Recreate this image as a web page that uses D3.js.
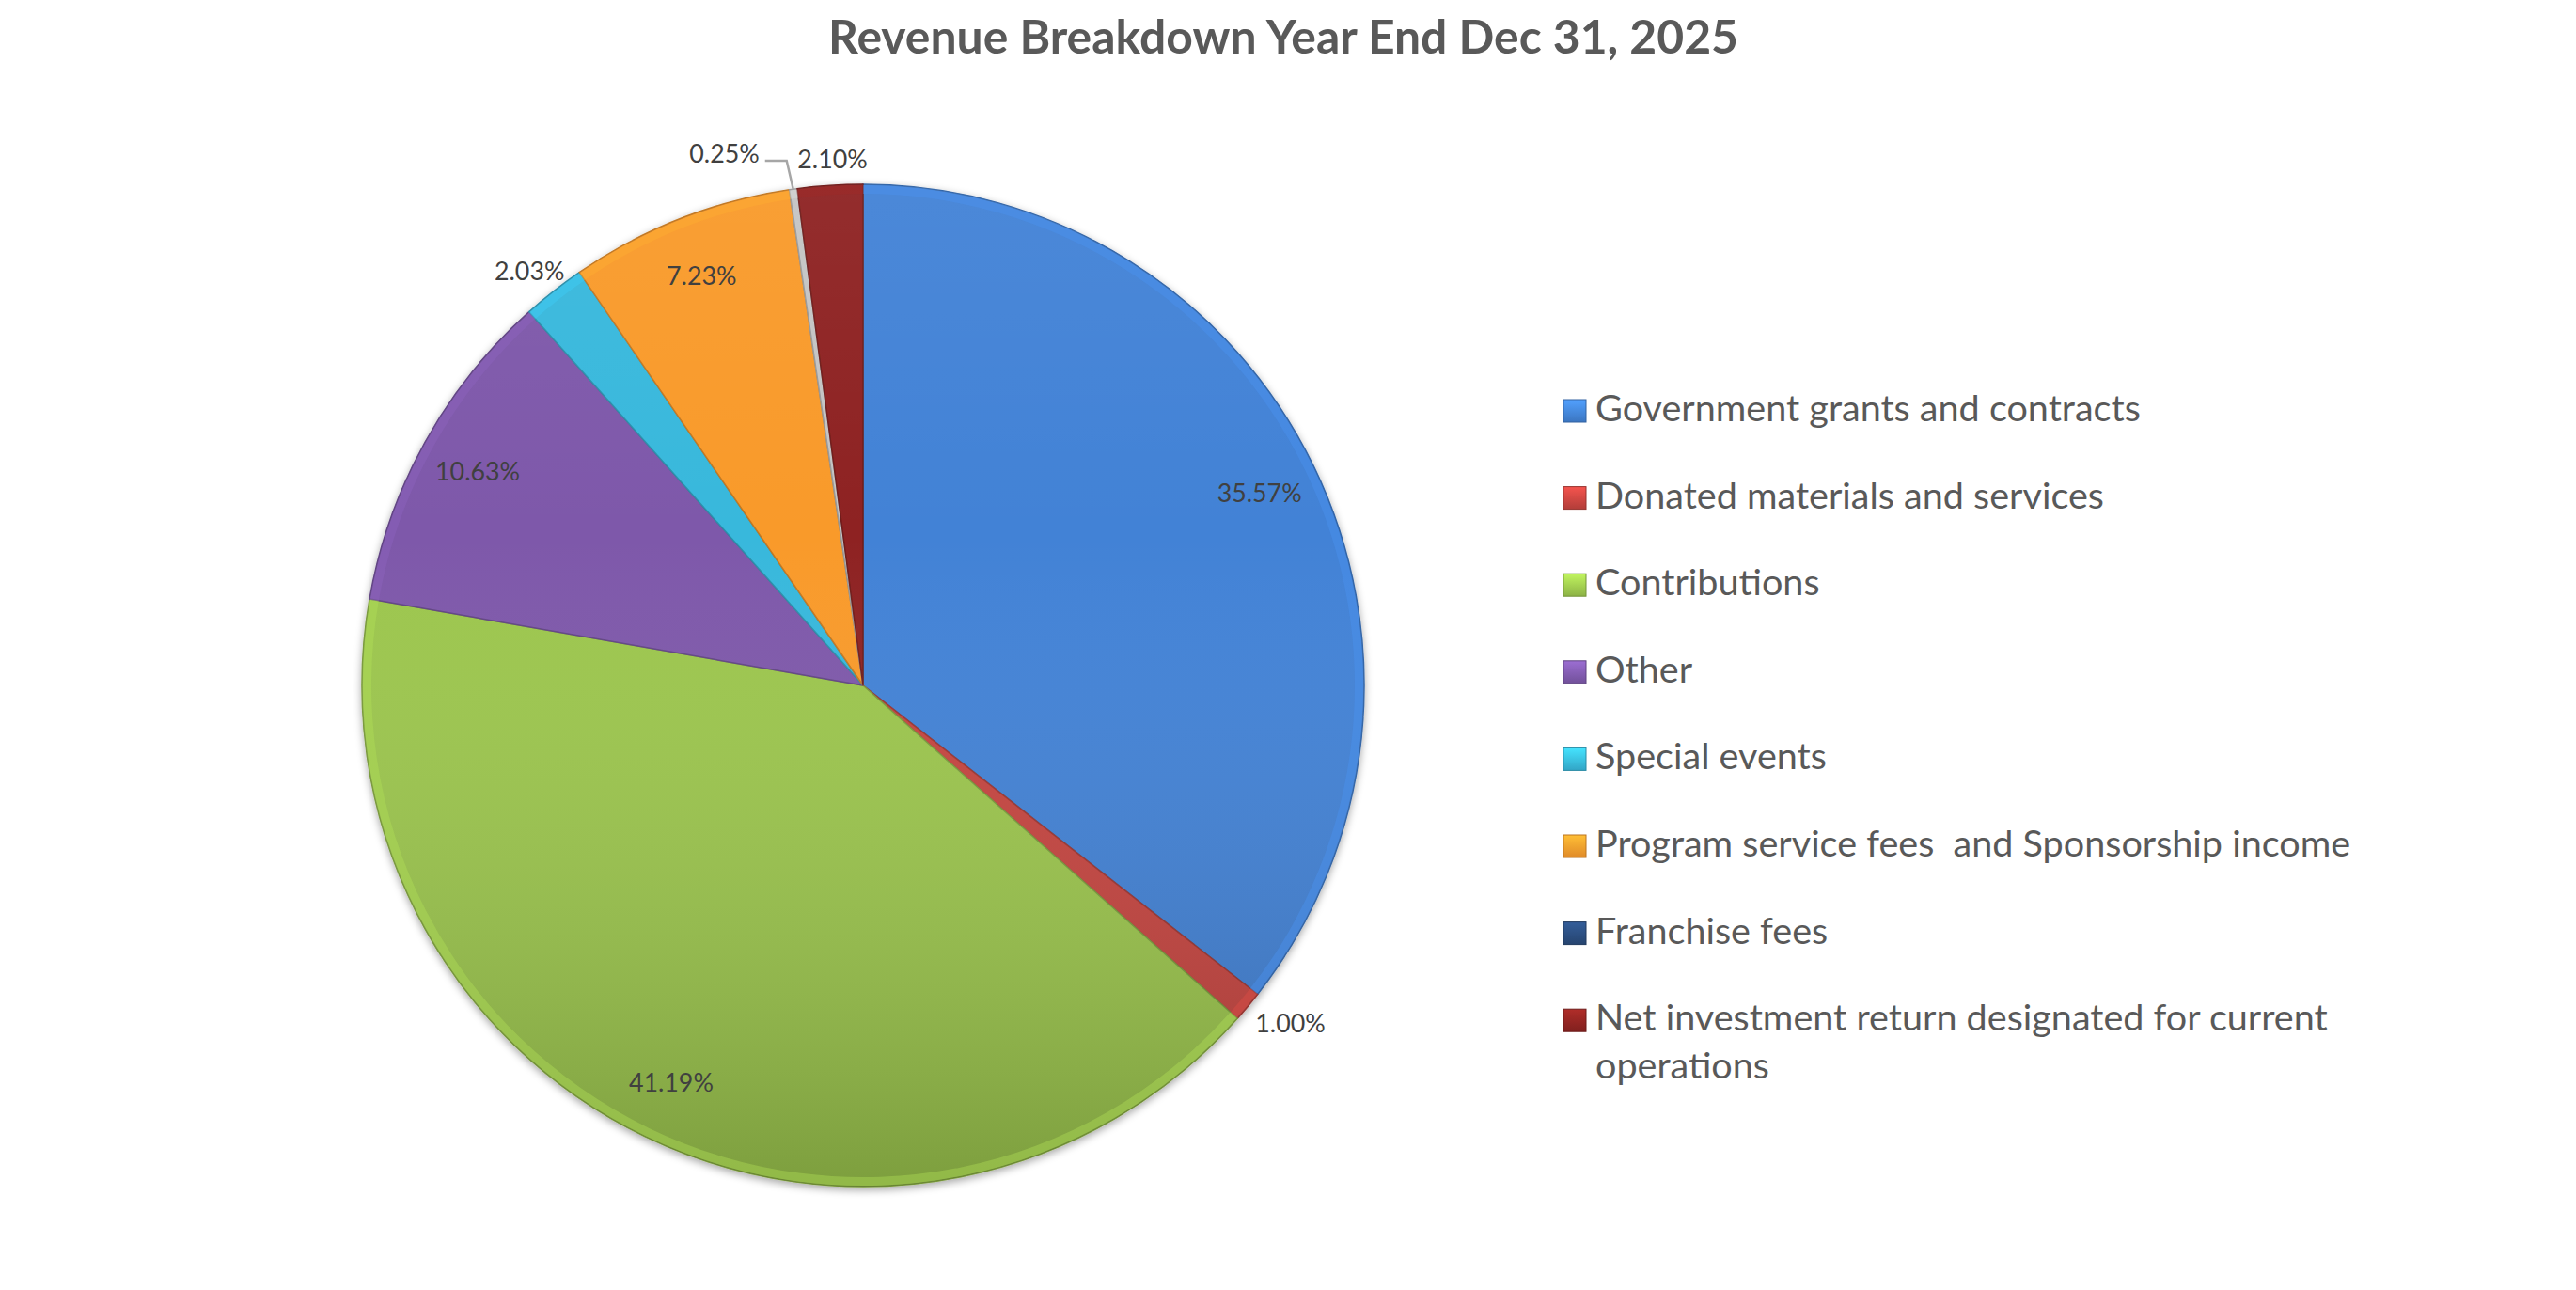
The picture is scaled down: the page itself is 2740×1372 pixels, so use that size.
<!DOCTYPE html>
<html>
<head>
<meta charset="utf-8">
<script src="https://cdn.jsdelivr.net/npm/d3@7"></script>
<style>
  html, body { margin: 0; background: #fff; }
  svg { display: block; }
</style>
</head>
<body>
<div id="chart"></div>
<script>
/* ── Data ──────────────────────────────────────────────────────────────── */
const chartTitle = 'Revenue Breakdown Year End Dec 31, 2025';
const categories = [
  'Government grants and contracts',
  'Donated materials and services',
  'Contributions',
  'Other',
  'Special events',
  'Program service fees  and Sponsorship income',
  'Franchise fees',
  'Net investment return designated for current operations'
];
const shares = [35.57, 1.00, 41.19, 10.63, 2.03, 7.23, 0.25, 2.10];
const sliceColors  = ['#4282d6', '#c6443f', '#9cc64d', '#7e59aa', '#38b8dc', '#f99a2c', '#c4c4c4', '#8e2421'];
const legendColors = ['#4282d6', '#c6443f', '#9cc64d', '#7e59aa', '#38b8dc', '#f99a2c', '#2a4c7c', '#8e2421'];

/* ── Layout ────────────────────────────────────────────────────────────── */
const W = 2740, H = 1372;
const cx = 918, cy = 729, R = 533;
const LABEL_CLR = '#404040';
const TEXT_CLR  = '#595959';
const FONT = 'Lato, "Open Sans", "DejaVu Sans", sans-serif';

const svg = d3.select('#chart').append('svg')
  .attr('width', W).attr('height', H);

const defs = svg.append('defs');
const shadow = defs.append('filter').attr('id', 'pieShadow')
  .attr('x', '-10%').attr('y', '-10%').attr('width', '120%').attr('height', '120%');
shadow.append('feDropShadow')
  .attr('dx', 0).attr('dy', 3).attr('stdDeviation', 4)
  .attr('flood-color', '#000').attr('flood-opacity', 0.35);

const light = defs.append('linearGradient').attr('id', 'pieLight')
  .attr('x1', 0).attr('y1', 0).attr('x2', 0).attr('y2', 1);
light.append('stop').attr('offset', '0%').attr('stop-color', '#fff').attr('stop-opacity', 0.05);
light.append('stop').attr('offset', '35%').attr('stop-color', '#fff').attr('stop-opacity', 0);
light.append('stop').attr('offset', '100%').attr('stop-color', '#000').attr('stop-opacity', 0.2);

// Fit a text node to a target pixel width by scaling its font size
function fitWidth(sel, target) {
  const size = parseFloat(sel.attr('font-size'));
  const w = sel.node().getComputedTextLength();
  const s = size * target / w;
  sel.attr('font-size', s);
  return s;
}

/* ── Title ─────────────────────────────────────────────────────────────── */
const title = svg.append('text')
  .attr('x', 1365).attr('y', 57)
  .attr('text-anchor', 'middle')
  .attr('font-family', FONT).attr('font-weight', 700)
  .attr('font-size', 46).attr('fill', TEXT_CLR)
  .text(chartTitle);
fitWidth(title, 968);

/* ── Pie ───────────────────────────────────────────────────────────────── */
const pie = d3.pie().sort(null).value(d => d)(shares);
const arc = d3.arc().innerRadius(0).outerRadius(R);

const g = svg.append('g').attr('transform', `translate(${cx},${cy})`);
const slices = g.append('g').attr('filter', 'url(#pieShadow)');

slices.selectAll('path.slice')
  .data(pie)
  .join('path')
    .attr('class', 'slice')
    .attr('d', arc)
    .attr('fill', (d, i) => sliceColors[i])
    .attr('stroke', (d, i) => d3.color(sliceColors[i]).darker(0.7))
    .attr('stroke-width', 1.5)
    .attr('stroke-linejoin', 'round');

// Soft top light / bottom shade across the whole pie
g.append('circle').attr('r', R).attr('fill', 'url(#pieLight)').attr('pointer-events', 'none');

// Bevel highlight along each slice's outer rim
const rim = d3.arc().innerRadius(R - 10).outerRadius(R - 1);
g.append('g').selectAll('path')
  .data(pie)
  .join('path')
    .attr('d', rim)
    .attr('fill', (d, i) => d3.color(sliceColors[i]).brighter(0.35))
    .attr('opacity', 0.4);

/* ── Data labels ───────────────────────────────────────────────────────── */
const fmt = v => d3.format('.2f')(v) + '%';
const mid = d => (d.startAngle + d.endAngle) / 2;

const probe = svg.append('text').attr('font-family', FONT).attr('font-size', 28).text('35.57%');
const labelSize = fitWidth(probe, 90);
probe.remove();

const labels = g.append('g')
  .attr('font-family', FONT).attr('font-size', labelSize).attr('fill', LABEL_CLR);

pie.forEach((d, i) => {
  const a = mid(d), sx = Math.sin(a), cy0 = -Math.cos(a);
  const v = shares[i];
  if (v >= 5) {
    // inside label
    labels.append('text')
      .attr('x', sx * R * 0.88).attr('y', cy0 * R * 0.88)
      .attr('text-anchor', 'middle').attr('dominant-baseline', 'central')
      .text(fmt(v));
  } else if (v >= 0.5) {
    // outside label, box nudged away from the rim
    const t = labels.append('text')
      .attr('text-anchor', 'middle').attr('dominant-baseline', 'central')
      .text(fmt(v));
    const w = t.node().getComputedTextLength();
    const ax = sx * (R + 14), ay = cy0 * (R + 14);
    t.attr('x', ax + sx * w / 2 + 6).attr('y', ay + cy0 * 14);
  } else {
    // callout with a leader line
    const p0 = [sx * R, cy0 * R];
    const p1 = [p0[0] - 7, -R - 25];
    const p2 = [p1[0] - 23, p1[1]];
    labels.append('polyline')
      .attr('points', [p0, p1, p2].map(p => p.join(',')).join(' '))
      .attr('fill', 'none').attr('stroke', '#a6a6a6').attr('stroke-width', 2.5);
    labels.append('text')
      .attr('x', p2[0] - 6).attr('y', p2[1] - 8)
      .attr('text-anchor', 'end').attr('dominant-baseline', 'central')
      .text(fmt(v));
  }
});

/* ── Legend ────────────────────────────────────────────────────────────── */
const legX = 1663, legY = 448, legStep = 92.6, sw = 24, lineGap = 51;
const legend = svg.append('g').attr('font-family', FONT).attr('fill', TEXT_CLR);

const probe2 = legend.append('text').attr('font-size', 36).text(categories[0]);
const legSize = fitWidth(probe2, 580);
probe2.remove();

categories.forEach((name, i) => {
  const y = legY + i * legStep;
  const grad = defs.append('linearGradient').attr('id', `sw${i}`)
    .attr('x1', 0).attr('y1', 0).attr('x2', 0).attr('y2', 1);
  grad.append('stop').attr('offset', '0%').attr('stop-color', d3.color(legendColors[i]).brighter(0.6));
  grad.append('stop').attr('offset', '100%').attr('stop-color', d3.color(legendColors[i]).darker(0.3));
  legend.append('rect')
    .attr('x', legX).attr('y', y - 23).attr('width', sw).attr('height', sw)
    .attr('fill', `url(#sw${i})`)
    .attr('stroke', d3.color(legendColors[i]).darker(0.8)).attr('stroke-width', 1);

  // wrap long names
  const t = legend.append('text')
    .attr('x', legX + 34).attr('y', y)
    .attr('font-size', legSize)
    .style('white-space', 'pre');
  const words = name.split(' ');
  let line = [], tspan = t.append('tspan').attr('x', legX + 34).attr('y', y), ln = 0;
  words.forEach(wd => {
    line.push(wd);
    tspan.text(line.join(' '));
    if (tspan.node().getComputedTextLength() > 830 && line.length > 1) {
      line.pop();
      tspan.text(line.join(' '));
      line = [wd];
      ln += 1;
      tspan = t.append('tspan').attr('x', legX + 34).attr('y', y + ln * lineGap).text(wd);
    }
  });
});
</script>
</body>
</html>
